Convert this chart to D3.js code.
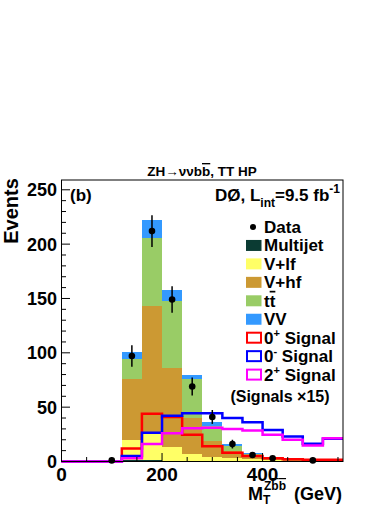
<!DOCTYPE html>
<html>
<head>
<meta charset="utf-8">
<script src="https://cdn.jsdelivr.net/npm/d3@7"></script>
<style>
  body { margin: 0; background: #fff; }
  text { font-family: "Liberation Sans", Arial, sans-serif; font-weight: bold; fill: #000; }
</style>
</head>
<body>
<div id="chart"></div>
<script>
// Bin edges in GeV (40 GeV bins, 0 to 560)
const binEdges = [0, 40, 80, 120, 160, 200, 240, 280, 320, 360, 400, 440, 480, 520, 560];

// Background components per bin (events)
const multijet = [0, 0, 0, 1, 1, 0.8, 0.5, 0.3, 0.2, 0.1, 0, 0, 0, 0];
const vlf      = [0, 0, 0, 19, 25, 12.2, 6.5, 4.2, 2.8, 1.9, 1, 0.6, 0.4, 0.2];
const vhf      = [0, 0, 0, 56, 117, 73, 33, 14.5, 7, 3.5, 1.5, 0.9, 0.6, 0.3];
const ttbar    = [0, 0, 0, 18.5, 62.5, 62, 36, 14, 4.4, 1.5, 1, 0.5, 0.2, 0.2];
const diboson  = [0, 0, 0, 6.5, 16.5, 10, 4, 3, 2.1, 1, 0.5, 0.3, 0.3, 0.2];

// Signals (already scaled x15)
const signal0p = [0, 0, 0, 12, 44, 41, 24.5, 14, 8, 5, 3, 2, 1.5, 1.5];
const signal0m = [0, 0, 0, 5, 26.5, 42, 44.5, 44.5, 40, 36, 29, 23, 16.3, 21];
const signal2p = [0, 0, 0, 3, 16, 26, 30.5, 31, 30, 28.5, 24.5, 20, 14.7, 21.5];

// Observed data per bin (empty bins are not drawn)
const dataCounts = [0, 0, 1, 97, 212, 149, 69, 41, 16, 6, 3, 0, 1, 0];

// Axis ticks
const yMajorTicks = [0, 50, 100, 150, 200, 250];
const xMajorTicks = [0, 200, 400];

const legendLabels = ["Data", "Multijet", "V+lf", "V+hf", "tt", "VV", "0", "0", "2"];
const legendSups = ["", "", "", "", "", "", "+", "-", "+"];

const width = 390, height = 505;
const plot = { left: 61.5, right: 343, top: 180, bottom: 461.5 };

const svg = d3.select("#chart").append("svg")
    .attr("width", width)
    .attr("height", height);

const x = d3.scaleLinear().domain([0, 560]).range([plot.left, plot.right]);
const y = d3.scaleLinear().domain([0, 259]).range([plot.bottom, plot.top]);

// Stack the backgrounds
const keys = ["multijet", "vlf", "vhf", "ttbar", "diboson"];
const colors = {
    multijet: "#0b3b33",
    vlf: "#ffff66",
    vhf: "#cc9933",
    ttbar: "#99cc66",
    diboson: "#3399ff"
};
const rows = binEdges.slice(0, -1).map((lo, i) => ({
    lo: lo, hi: binEdges[i + 1],
    multijet: multijet[i], vlf: vlf[i], vhf: vhf[i], ttbar: ttbar[i], diboson: diboson[i]
}));
const stacked = d3.stack().keys(keys)(rows);

const stackGroup = svg.append("g");
stacked.forEach(layer => {
    stackGroup.append("g")
        .attr("fill", colors[layer.key])
        .selectAll("rect")
        .data(layer.filter(d => d[1] - d[0] > 0))
        .enter().append("rect")
        .attr("shape-rendering", "crispEdges")
        .attr("x", d => x(d.data.lo))
        .attr("width", d => x(d.data.hi) - x(d.data.lo))
        .attr("y", d => y(d[1]))
        .attr("height", d => y(d[0]) - y(d[1]));
});

// Signal step lines
const stepLine = d3.line()
    .x(d => x(d[0]))
    .y(d => y(d[1]))
    .curve(d3.curveStepAfter);

function stepPoints(values) {
    const pts = values.map((v, i) => [binEdges[i], v]);
    pts.push([binEdges[binEdges.length - 1], values[values.length - 1]]);
    return pts;
}

[[signal0p, "#ff0000"], [signal0m, "#0000ff"], [signal2p, "#ff00ff"]].forEach(([vals, col]) => {
    svg.append("path")
        .attr("d", stepLine(stepPoints(vals)))
        .attr("fill", "none")
        .attr("stroke", col)
        .attr("stroke-width", 2.5);
});

// Frame
svg.append("rect")
    .attr("x", plot.left).attr("y", plot.top)
    .attr("width", plot.right - plot.left)
    .attr("height", plot.bottom - plot.top)
    .attr("fill", "none")
    .attr("stroke", "#000")
    .attr("stroke-width", 1);

// Y axis ticks (inside) and labels
const yAxis = svg.append("g");
d3.range(0, 260, 10).forEach(v => {
    const major = v % 50 === 0;
    yAxis.append("line")
        .attr("x1", plot.left).attr("x2", plot.left + (major ? 8.5 : 4.5))
        .attr("y1", y(v)).attr("y2", y(v))
        .attr("stroke", "#000");
});
yAxis.selectAll("text.ylab")
    .data(yMajorTicks)
    .enter().append("text")
    .attr("x", 57)
    .attr("y", d => y(d) + 6.5)
    .attr("text-anchor", "end")
    .style("font-size", "18px")
    .text(d => d);

// X axis ticks (inside) and labels
const xAxis = svg.append("g");
d3.range(0, 561, 50).forEach(v => {
    const major = v % 200 === 0;
    xAxis.append("line")
        .attr("x1", x(v)).attr("x2", x(v))
        .attr("y1", plot.bottom).attr("y2", plot.bottom - (major ? 8.5 : 4.5))
        .attr("stroke", "#000");
});
xAxis.selectAll("text.xlab")
    .data(xMajorTicks)
    .enter().append("text")
    .attr("x", d => x(d))
    .attr("y", 481)
    .attr("text-anchor", "middle")
    .style("font-size", "19px")
    .text(d => d);

// Data points with sqrt(N) errors
const dataPts = dataCounts.map((v, i) => ({ c: (binEdges[i] + binEdges[i + 1]) / 2, v: v }))
    .filter(d => d.v > 0);
const dataGroup = svg.append("g");
dataGroup.selectAll("line")
    .data(dataPts)
    .enter().append("line")
    .attr("x1", d => x(d.c)).attr("x2", d => x(d.c))
    .attr("y1", d => y(d.v + Math.sqrt(d.v)))
    .attr("y2", d => y(Math.max(0, d.v - Math.sqrt(d.v))))
    .attr("stroke", "#000")
    .attr("stroke-width", 1.5);
dataGroup.selectAll("circle")
    .data(dataPts)
    .enter().append("circle")
    .attr("cx", d => x(d.c))
    .attr("cy", d => y(d.v))
    .attr("r", 3.3)
    .attr("fill", "#000");

// Title
const title = svg.append("text")
    .attr("x", 202).attr("y", 176)
    .attr("text-anchor", "middle")
    .style("font-size", "13.5px");
title.append("tspan").text("ZH\u2192\u03bd\u03bdb");
title.append("tspan").style("text-decoration", "overline").text("b");
title.append("tspan").text(", TT HP");

// (b) label
svg.append("text")
    .attr("x", 70).attr("y", 201)
    .style("font-size", "17px")
    .text("(b)");

// DØ luminosity label
const lumi = svg.append("text")
    .attr("x", 340).attr("y", 201)
    .attr("text-anchor", "end")
    .style("font-size", "17px");
lumi.append("tspan").text("D\u00d8, L");
lumi.append("tspan").attr("dy", 6).style("font-size", "12px").text("int");
lumi.append("tspan").attr("dy", -6).text("=9.5 fb");
lumi.append("tspan").attr("dy", -8).style("font-size", "12px").text("-1");

// Events label
svg.append("text")
    .attr("transform", "translate(18,211) rotate(-90)")
    .attr("text-anchor", "middle")
    .style("font-size", "20px")
    .text("Events");

// X axis title: M_T^{Zbb}
svg.append("text").attr("x", 248).attr("y", 500).style("font-size", "18px").text("M");
svg.append("text").attr("x", 263).attr("y", 503.5).style("font-size", "12px").text("T");
const sup = svg.append("text").attr("x", 264).attr("y", 490).style("font-size", "12px");
sup.append("tspan").text("Z");
sup.append("tspan").style("text-decoration", "overline").text("b");
sup.append("tspan").style("text-decoration", "overline").text("b");
svg.append("text").attr("x", 342).attr("y", 500)
    .attr("text-anchor", "end")
    .style("font-size", "18px")
    .text("(GeV)");

// Legend
const legendStyles = [
    { type: "dot" },
    { type: "fill", color: colors.multijet },
    { type: "fill", color: colors.vlf },
    { type: "fill", color: colors.vhf },
    { type: "fill", color: colors.ttbar },
    { type: "fill", color: colors.diboson },
    { type: "line", color: "#ff0000" },
    { type: "line", color: "#0000ff" },
    { type: "line", color: "#ff00ff" }
];
const legend = svg.append("g");
legendLabels.forEach((label, i) => {
    const cy = 227 + i * 18.45;
    const st = legendStyles[i];
    if (st.type === "dot") {
        legend.append("circle").attr("cx", 253).attr("cy", cy).attr("r", 3).attr("fill", "#000");
    } else if (st.type === "fill") {
        legend.append("rect")
            .attr("x", 246).attr("y", cy - 5.5)
            .attr("width", 15.5).attr("height", 11)
            .attr("fill", st.color);
    } else {
        legend.append("rect")
            .attr("x", 247).attr("y", cy - 5)
            .attr("width", 14).attr("height", 10)
            .attr("fill", "#fff")
            .attr("stroke", st.color)
            .attr("stroke-width", 2);
    }
    const t = legend.append("text")
        .attr("x", 264).attr("y", cy + 6)
        .style("font-size", "17px");
    if (label === "tt") {
        t.append("tspan").text("t");
        t.append("tspan").style("text-decoration", "overline").text("t");
    } else if (legendSups[i]) {
        t.append("tspan").text(label);
        t.append("tspan").attr("dy", -7).style("font-size", "11px").text(legendSups[i]);
        t.append("tspan").attr("dy", 7).text(" Signal");
    } else {
        t.text(label);
    }
});
legend.append("text")
    .attr("x", 280).attr("y", 401.5)
    .attr("text-anchor", "middle")
    .style("font-size", "16px")
    .text("(Signals \u00d715)");
</script>
</body>
</html>
